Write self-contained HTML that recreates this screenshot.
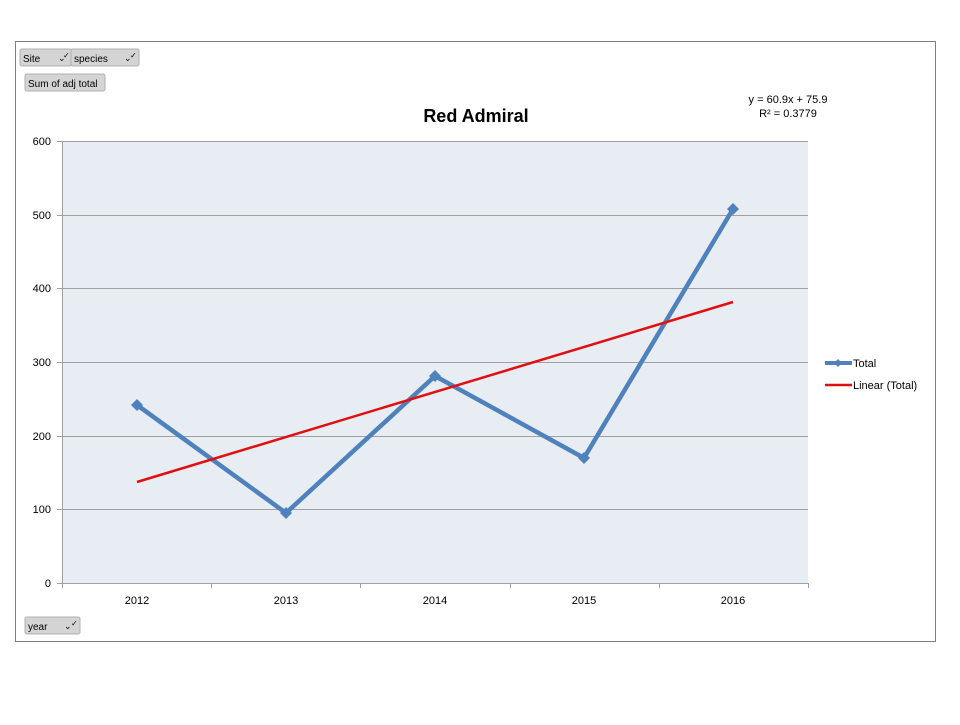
<!DOCTYPE html>
<html><head><meta charset="utf-8"><style>
body{margin:0;background:#fff;}
</style></head><body>
<svg width="960" height="720" xmlns="http://www.w3.org/2000/svg" font-family="Liberation Sans, sans-serif">
<rect x="0" y="0" width="960" height="720" fill="#fff"/>
<rect x="15.5" y="41.5" width="920" height="600" fill="#fff" stroke="#7f7f7f"/>
<!-- buttons -->
<g font-size="10" fill="#000">
<rect x="20" y="49" width="52" height="17" rx="2" fill="#d4d4d4" stroke="#b0b0b0"/>
<text x="23" y="62">Site</text><text x="58" y="61" font-size="9">⌄</text><text x="63" y="58" font-size="8">✓</text>
<rect x="71" y="49" width="68" height="17" rx="2" fill="#d4d4d4" stroke="#b0b0b0"/>
<text x="74" y="62">species</text><text x="124" y="61" font-size="9">⌄</text><text x="130" y="58" font-size="8">✓</text>
<rect x="25" y="74" width="80" height="17" rx="2" fill="#d4d4d4" stroke="#b0b0b0"/>
<text x="28" y="87">Sum of adj total</text>
<rect x="25" y="617" width="55" height="17" rx="2" fill="#d4d4d4" stroke="#b0b0b0"/>
<text x="28" y="630">year</text><text x="64" y="629" font-size="9">⌄</text><text x="71" y="626" font-size="8">✓</text>
</g>
<text x="476" y="122" font-size="18" font-weight="bold" text-anchor="middle">Red Admiral</text>
<text x="788" y="103" font-size="11" text-anchor="middle">y = 60.9x + 75.9</text>
<text x="788" y="117" font-size="11" text-anchor="middle">R² = 0.3779</text>
<!-- plot -->
<rect x="62" y="141" width="746" height="442" fill="#e8edf3"/>
<g stroke="#a0a0a0" stroke-width="1">
<line x1="62" y1="141.5" x2="808" y2="141.5"/>
<line x1="62" y1="215.5" x2="808" y2="215.5"/>
<line x1="62" y1="288.5" x2="808" y2="288.5"/>
<line x1="62" y1="362.5" x2="808" y2="362.5"/>
<line x1="62" y1="436.5" x2="808" y2="436.5"/>
<line x1="62" y1="509.5" x2="808" y2="509.5"/>
<line x1="62" y1="583.5" x2="808" y2="583.5"/>
<line x1="62.5" y1="141" x2="62.5" y2="588"/>
<line x1="211.5" y1="583" x2="211.5" y2="588"/>
<line x1="360.5" y1="583" x2="360.5" y2="588"/>
<line x1="510.5" y1="583" x2="510.5" y2="588"/>
<line x1="659.5" y1="583" x2="659.5" y2="588"/>
<line x1="808.5" y1="583" x2="808.5" y2="588"/>
<line x1="57" y1="141.5" x2="62" y2="141.5"/>
<line x1="57" y1="215.5" x2="62" y2="215.5"/>
<line x1="57" y1="288.5" x2="62" y2="288.5"/>
<line x1="57" y1="362.5" x2="62" y2="362.5"/>
<line x1="57" y1="436.5" x2="62" y2="436.5"/>
<line x1="57" y1="509.5" x2="62" y2="509.5"/>
<line x1="57" y1="583.5" x2="62" y2="583.5"/>
</g>
<g font-size="11" text-anchor="end">
<text x="51" y="145">600</text><text x="51" y="219">500</text><text x="51" y="292">400</text>
<text x="51" y="366">300</text><text x="51" y="440">200</text><text x="51" y="513">100</text><text x="51" y="587">0</text>
</g>
<g font-size="11" text-anchor="middle">
<text x="137" y="604">2012</text><text x="286" y="604">2013</text><text x="435" y="604">2014</text>
<text x="584" y="604">2015</text><text x="733" y="604">2016</text>
</g>
<polyline points="137,405 286,513 435,376 584,458 733,209" fill="none" stroke="#4f81bd" stroke-width="4.5" stroke-linejoin="round"/>
<g fill="#4f81bd">
<polygon points="137,399 143,405 137,411 131,405"/>
<polygon points="286,507 292,513 286,519 280,513"/>
<polygon points="435,370 441,376 435,382 429,376"/>
<polygon points="584,452 590,458 584,464 578,458"/>
<polygon points="733,203 739,209 733,215 727,209"/>
</g>
<line x1="137" y1="482" x2="733" y2="302" stroke="#e01010" stroke-width="2.5"/>
<!-- legend -->
<line x1="825" y1="363" x2="852" y2="363" stroke="#4f81bd" stroke-width="4"/>
<polygon points="838,359 842,363 838,367 834,363" fill="#4f81bd"/>
<text x="853" y="367" font-size="11">Total</text>
<line x1="825" y1="385" x2="852" y2="385" stroke="#e01010" stroke-width="2.5"/>
<text x="853" y="389" font-size="11">Linear (Total)</text>
</svg>
</body></html>
